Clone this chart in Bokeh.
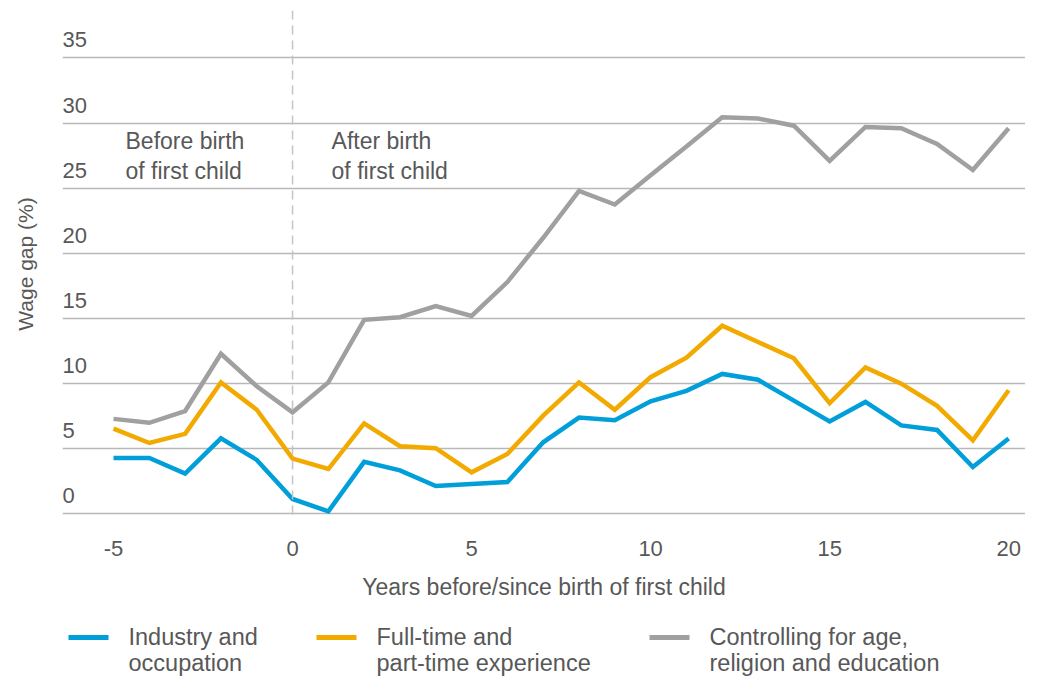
from bokeh.plotting import figure
from bokeh.models import Range1d, FixedTicker, Span
from bokeh.layouts import column
from bokeh.core.properties import value
from bokeh.embed import file_html
from bokeh.resources import INLINE

# ---------------- data ----------------
years = list(range(-5, 21))
industry_occupation = [4.3, 4.3, 3.1, 5.8, 4.15, 1.15, 0.2, 4.0, 3.35, 2.15, 2.3, 2.45, 5.5,
                       7.4, 7.2, 8.65, 9.45, 10.75, 10.3, 8.7, 7.1, 8.6, 6.8, 6.45, 3.6, 5.8]
fulltime_parttime = [6.55, 5.45, 6.15, 10.1, 8.0, 4.25, 3.45, 6.95, 5.2, 5.05, 3.2, 4.6, 7.55,
                     10.1, 8.0, 10.5, 12.0, 14.45, 13.2, 11.95, 8.5, 11.25, 10.0, 8.3, 5.65, 9.5]
controlling_age = [7.3, 7.0, 7.9, 12.3, 9.8, 7.8, 10.1, 14.9, 15.1, 15.95, 15.2, 17.8, 21.2,
                   24.8, 23.75, 26.0, 28.2, 30.45, 30.35, 29.8, 27.1, 29.7, 29.6, 28.4, 26.4, 29.6]

y_ticks = [0, 5, 10, 15, 20, 25, 30, 35]
y_tick_labels = [str(t) for t in y_ticks]
x_ticks = [-5, 0, 5, 10, 15, 20]
x_tick_labels = ["-5", "0", "5", "10", "15", "20"]

series_names = ["Industry and\noccupation", "Full-time and\npart-time experience",
                "Controlling for age,\nreligion and education"]
colors = ["#009FDA", "#F2A900", "#A0A0A0"]

phase_text_1 = ["Before birth", "After birth"]
phase_text_2 = ["of first child", "of first child"]

TEXT = "#585858"
FONT = "Liberation Sans"
FS = "23px"
FS_TICK = "22px"

# ---------------- main chart ----------------
x0, x1 = -6.425, 20.47
p = figure(width=1025, height=610, x_range=Range1d(x0, x1), y_range=Range1d(-0.27, 38.64),
           output_backend="svg", toolbar_location=None,
           min_border_left=62, min_border_right=0, min_border_top=10, min_border_bottom=93)
p.outline_line_color = None
p.background_fill_color = "white"
p.border_fill_color = "white"
p.xgrid.visible = False
p.ygrid.ticker = FixedTicker(ticks=y_ticks)
p.ygrid.grid_line_color = "#b8b8b8"
p.ygrid.grid_line_width = 1.5

p.xaxis.ticker = FixedTicker(ticks=x_ticks)
p.xaxis.major_label_overrides = dict(zip(x_ticks, x_tick_labels))
p.xaxis.axis_line_color = None
p.xaxis.major_tick_line_color = None
p.xaxis.minor_tick_line_color = None
p.xaxis.major_tick_out = 0
p.xaxis.major_tick_in = 0
p.xaxis.major_label_standoff = 23
p.xaxis.major_label_text_font = FONT
p.xaxis.major_label_text_font_size = FS_TICK
p.xaxis.major_label_text_color = TEXT
p.xaxis.axis_label = "Years before/since birth of first child"
p.xaxis.axis_label_text_font = FONT
p.xaxis.axis_label_text_font_size = FS
p.xaxis.axis_label_text_font_style = "normal"
p.xaxis.axis_label_text_color = TEXT
p.xaxis.axis_label_standoff = 15

p.yaxis.ticker = FixedTicker(ticks=[])
p.yaxis.axis_line_color = None
p.yaxis.major_tick_line_color = None
p.yaxis.minor_tick_line_color = None
p.yaxis.major_tick_out = 0
p.yaxis.major_tick_in = 0
p.yaxis.major_label_text_font_size = "0px"
p.yaxis.axis_label = "Wage gap (%)"
p.yaxis.axis_label_text_font = FONT
p.yaxis.axis_label_text_font_size = "21px"
p.yaxis.axis_label_text_font_style = "normal"
p.yaxis.axis_label_text_color = TEXT
p.yaxis.axis_label_standoff = 26

p.add_layout(Span(location=0, dimension="height", line_color="#c4c4c4",
                  line_width=1.5, line_dash="9 6"))

# y tick labels above grid lines
p.text(x=[x0] * len(y_ticks), y=y_ticks, text=y_tick_labels, text_align="left",
       text_baseline="middle", y_offset=-18, text_font=value(FONT),
       text_font_size=FS_TICK, text_color=TEXT)

# phase annotations
p.text(x=[-4.665, 1.09], y=[28.6, 28.6], text=phase_text_1, text_align="left",
       text_baseline="middle", text_font=value(FONT), text_font_size=FS, text_color=TEXT)
p.text(x=[-4.665, 1.09], y=[26.3, 26.3], text=phase_text_2, text_align="left",
       text_baseline="middle", text_font=value(FONT), text_font_size=FS, text_color=TEXT)

for ys, c in zip([controlling_age, fulltime_parttime, industry_occupation],
                 [colors[2], colors[1], colors[0]]):
    p.line(years, ys, line_color=c, line_width=4.5, line_join="miter")

# ---------------- legend ----------------
# column() aligns this frame with the main frame (left edge at 62 px)
lg = figure(width=1025, height=66, x_range=Range1d(62, 1025), y_range=Range1d(676, 610),
            output_backend="svg", toolbar_location=None, min_border=0)
lg.axis.visible = False
lg.grid.visible = False
lg.outline_line_color = None
sw_x0 = [68, 316, 649]
sw_x1 = [108, 356, 689]
lg.segment(x0=sw_x0, y0=[637] * 3, x1=sw_x1, y1=[637] * 3, line_color=colors, line_width=5)
lines1 = [n.split("\n")[0] for n in series_names]
lines2 = [n.split("\n")[1] for n in series_names]
tx = [128, 376, 709]
lg.text(x=tx, y=[636] * 3, text=lines1, text_align="left", text_baseline="middle",
        text_font=value(FONT), text_font_size="23.5px", text_color=TEXT)
lg.text(x=tx, y=[662] * 3, text=lines2, text_align="left", text_baseline="middle",
        text_font=value(FONT), text_font_size="23.5px", text_color=TEXT)

layout = column(p, lg, spacing=0)
open("out.html", "w").write(file_html(layout, INLINE))
